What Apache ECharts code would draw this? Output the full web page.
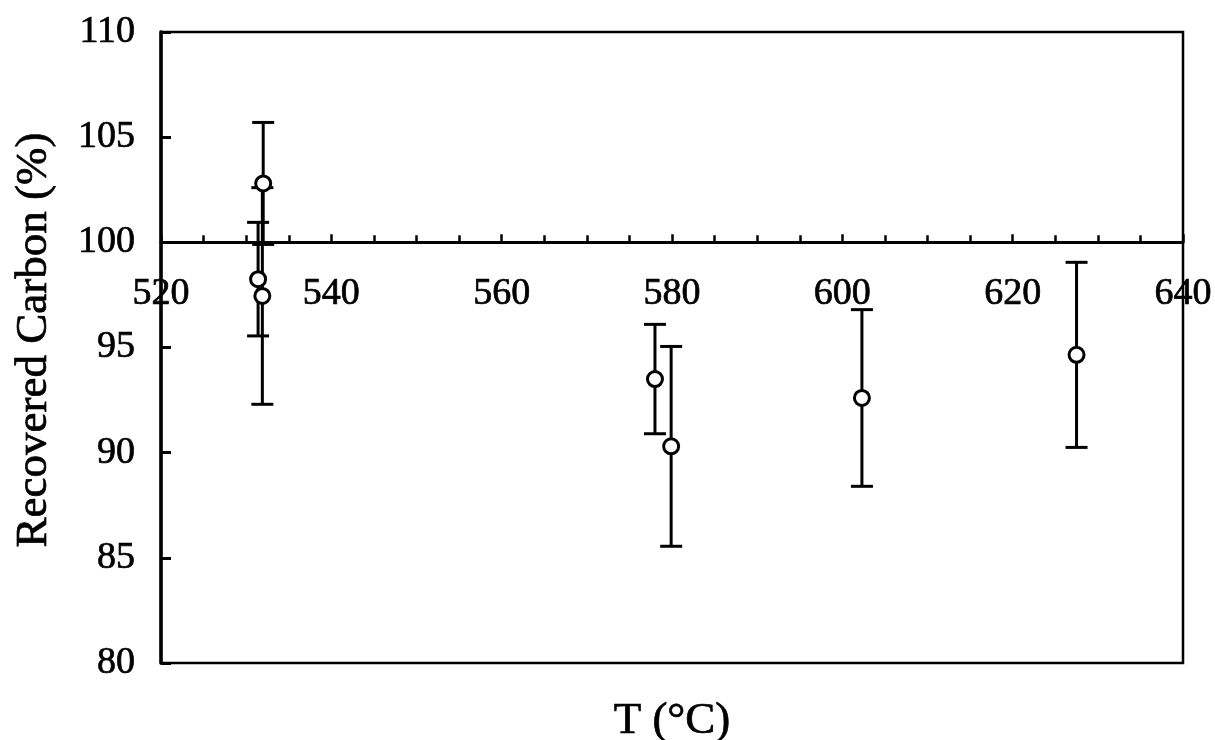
<!DOCTYPE html>
<html>
<head>
<meta charset="utf-8">
<script src="https://cdn.jsdelivr.net/npm/echarts@6/dist/echarts.min.js"></script>
<style>
  html, body { margin: 0; padding: 0; background: #fff; }
  #chart { width: 1215px; height: 740px; }
</style>
</head>
<body>
<div id="chart"></div>
<script>
// Reactor temperature (°C) for each run
const temperatures = [532.0, 531.4, 531.9, 578.0, 579.9, 602.3, 627.5];
// Recovered carbon (%) for each run
const recoveredCarbon = [102.8, 98.25, 97.45, 93.5, 90.3, 92.6, 94.65];
// Half-width of the error bar (%) for each run
const errorHalfWidth = [2.9, 2.7, 5.15, 2.6, 4.75, 4.2, 4.4];

const xTicks = { min: 520, max: 640, step: 20 };
const yTicks = { min: 80, max: 110, step: 5 };

const serif = '"Liberation Serif", "Times New Roman", serif';
// slightly heavier glyphs, like a printed figure
const ink = { fontFamily: serif, color: '#000', textBorderColor: '#000', textBorderWidth: 0.7 };

const points = temperatures.map((t, i) => [t, recoveredCarbon[i]]);
const bars = temperatures.map((t, i) => [
  t,
  recoveredCarbon[i] - errorHalfWidth[i],
  recoveredCarbon[i] + errorHalfWidth[i]
]);

const chart = echarts.init(document.getElementById('chart'), null, { renderer: 'canvas' });

const gridTop = 32, gridBottom = 77;
const plotH = 740 - gridTop - gridBottom;
// pixel distance of the y=100 line above the bottom of the frame
const axisLift = plotH * (100 - yTicks.min) / (yTicks.max - yTicks.min);

chart.setOption({
  animation: false,
  backgroundColor: '#fff',
  grid: {
    left: 161, right: 32, top: gridTop, bottom: gridBottom,
    show: true, borderColor: '#000', borderWidth: 2.5,
    outerBoundsMode: 'none'
  },
  xAxis: {
    type: 'value',
    min: xTicks.min, max: xTicks.max, interval: xTicks.step,
    position: 'bottom',
    offset: -axisLift,
    name: 'T (°C)',
    nameLocation: 'middle',
    nameGap: 456,
    nameTextStyle: Object.assign({ fontSize: 45 }, ink),
    axisLine: { show: true, onZero: false, lineStyle: { color: '#000', width: 3 } },
    axisTick: { show: true, inside: true, length: 8, lineStyle: { color: '#000', width: 2.5 } },
    minorTick: { show: true, splitNumber: 4, length: 7, lineStyle: { color: '#000', width: 2.5 } },
    axisLabel: Object.assign({ fontSize: 38, margin: 33 }, ink),
    splitLine: { show: false }
  },
  yAxis: {
    type: 'value',
    min: yTicks.min, max: yTicks.max, interval: yTicks.step,
    name: 'Recovered Carbon (%)',
    nameLocation: 'middle',
    nameRotate: 90,
    nameGap: 104,
    nameTextStyle: Object.assign({ fontSize: 45, padding: [0, 0, 0, 15] }, ink),
    axisLine: { show: true, lineStyle: { color: '#000', width: 3.5 } },
    axisTick: { show: true, inside: true, length: 10, lineStyle: { color: '#000', width: 3 } },
    axisLabel: Object.assign({ fontSize: 38, margin: 26 }, ink),
    splitLine: { show: false }
  },
  series: [
    {
      type: 'custom',
      name: 'error',
      data: bars,
      z: 2,
      renderItem: function (params, api) {
        const x = api.value(0);
        const lo = api.coord([x, api.value(1)]);
        const hi = api.coord([x, api.value(2)]);
        const cap = 11;
        const style = { stroke: '#000', lineWidth: 3, fill: null };
        return {
          type: 'group',
          children: [
            { type: 'line', shape: { x1: hi[0], y1: hi[1], x2: lo[0], y2: lo[1] }, style: style },
            { type: 'line', shape: { x1: hi[0] - cap, y1: hi[1], x2: hi[0] + cap, y2: hi[1] }, style: style },
            { type: 'line', shape: { x1: lo[0] - cap, y1: lo[1], x2: lo[0] + cap, y2: lo[1] }, style: style }
          ]
        };
      }
    },
    {
      type: 'scatter',
      name: 'Recovered Carbon',
      data: points,
      z: 3,
      symbol: 'circle',
      symbolSize: 15,
      itemStyle: { color: '#fff', borderColor: '#000', borderWidth: 3, opacity: 1 },
      emphasis: { disabled: true }
    }
  ]
});
</script>
</body>
</html>
